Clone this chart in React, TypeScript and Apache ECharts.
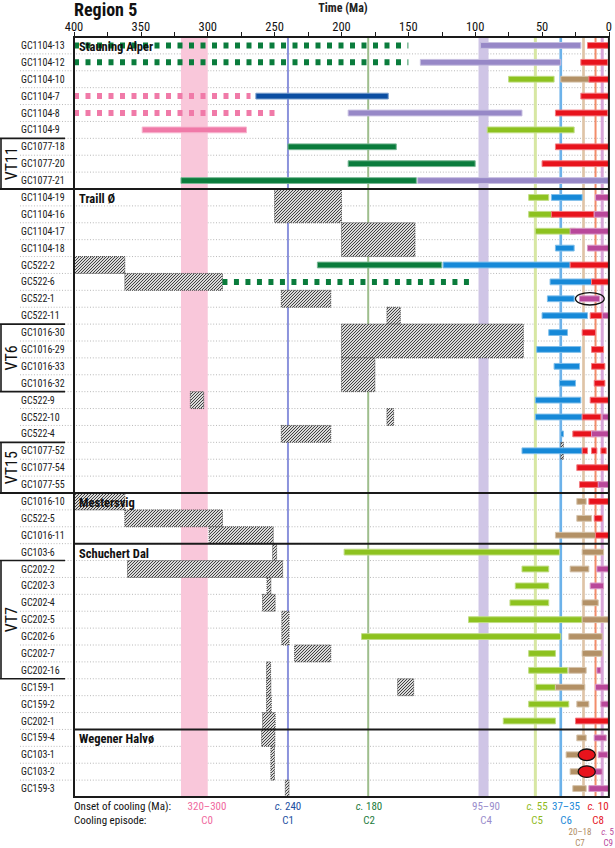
import React, { useEffect, useRef } from 'react';
import * as echarts from 'echarts';

const FONT = "'Liberation Sans Narrow', 'Roboto Condensed', Roboto, sans-serif";

// ---------- data ----------
const samples = [
  'GC1104-13', 'GC1104-12', 'GC1104-10', 'GC1104-7', 'GC1104-8', 'GC1104-9', 'GC1077-18', 'GC1077-20', 'GC1077-21',
  'GC1104-19', 'GC1104-16', 'GC1104-17', 'GC1104-18', 'GC522-2', 'GC522-6', 'GC522-1', 'GC522-11', 'GC1016-30',
  'GC1016-29', 'GC1016-33', 'GC1016-32', 'GC522-9', 'GC522-10', 'GC522-4', 'GC1077-52', 'GC1077-54', 'GC1077-55',
  'GC1016-10', 'GC522-5', 'GC1016-11',
  'GC103-6', 'GC202-2', 'GC202-3', 'GC202-4', 'GC202-5', 'GC202-6', 'GC202-7', 'GC202-16', 'GC159-1', 'GC159-2', 'GC202-1',
  'GC159-4', 'GC103-1', 'GC103-2', 'GC159-3',
];

const groupNames = ['Stauning Alper', 'Traill Ø', 'Mestersvig', 'Schuchert Dal', 'Wegener Halvø'];
const groupFirstRow = [0, 9, 27, 30, 41];

const vtNames = ['VT11', 'VT6', 'VT15', 'VT7'];
const vtFirstRow = [6, 17, 24, 31];
const vtLastRow = [8, 20, 26, 37];

const episodes = ['C0', 'C1', 'C2', 'C4', 'C5', 'C6', 'C7', 'C8', 'C9'];
const onsetText = ['320–300', 'c. 240', 'c. 180', '95–90', 'c. 55', '37–35', '20–18', 'c. 10', 'c. 5'];
const onsetFrom = [320, 240, 180, 97.5, 55, 37, 20, 10, 5];
const onsetTo = [300, 240, 180, 90, 55, 35, 18, 10, 5];

// bars: [row, from (Ma), to (Ma)]
const c0Bars = [[5, 349, 271]];
const c1Bars = [[3, 264, 165]];
const c2Bars = [[6, 240, 159], [7, 195, 100], [8, 320, 144], [13, 218, 125]];
const c4Bars = [[0, 96, 21], [1, 141, 36], [4, 195, 65], [8, 143, 0]];
const c5Bars = [
  [2, 75, 41], [5, 91, 26], [9, 60, 45], [10, 60, 41], [11, 55, 25],
  [30, 198, 37], [31, 65, 45], [32, 70, 45], [33, 74, 45], [34, 105, 20], [35, 185, 36], [36, 60, 40],
  [37, 60, 31], [38, 55, 40], [39, 60, 30], [40, 79, 40],
];
const c6Bars = [
  [9, 43, 20], [12, 40, 26], [13, 124, 29], [14, 44, 10], [15, 46, 26], [16, 50, 16], [17, 45, 31],
  [18, 54, 21], [19, 41, 22], [20, 37, 25], [21, 55, 21], [22, 55, 20], [23, 36, 34], [24, 65, 20],
];
const c7Bars = [
  [2, 36, 11], [27, 24, 17], [28, 24, 13], [29, 40, 10], [30, 20, 4], [31, 29, 15], [33, 20, 8], [34, 20, 0],
  [35, 30, 5], [36, 20, 5], [37, 30, 17], [38, 40, 18], [39, 24, 15], [41, 24, 17], [42, 32, 19], [43, 29, 19], [44, 27, 17],
];
const c8Bars = [
  [0, 16, 0], [1, 21, 1], [2, 15, 0], [3, 21, 0], [4, 40, 1], [6, 40, 0], [7, 50, 0], [10, 43, 11], [13, 29, 0],
  [14, 13, 0], [16, 14, 5], [17, 20, 10], [18, 13, 4], [19, 13, 3], [20, 11, 3], [21, 14, 0], [22, 20, 6], [23, 27, 11],
  [24, 20, 16], [24, 13, 9], [24, 6, 2], [25, 24, 0], [26, 22, 4], [27, 15, 0], [28, 11, 5], [29, 10, 0], [40, 25, 0],
  [42, 22, 11], [43, 22, 11],
];
const c9Bars = [
  [9, 10, 0], [10, 11, 0], [11, 29, 0], [12, 16, 0], [15, 22, 7], [16, 5, 0], [22, 5, 0], [23, 13, 0], [26, 8, 0],
  [31, 9, 0], [32, 14, 4], [37, 9, 6], [38, 10, 0], [39, 6, 0], [41, 11, 2], [42, 8, 1], [43, 11, 5], [44, 15, 0],
];
// dashed (poorly constrained) bars: [row, from, to]
const c0Dashed = [[3, 400, 268], [4, 400, 250]];
const c2Dashed = [[0, 400, 150], [1, 400, 150], [14, 289, 102]];

// hatched boxes: [firstRow, lastRow, from, to]
const boxes = [
  [9, 10, 250, 200], [11, 12, 200, 145], [13, 13, 400, 362], [14, 14, 362, 289], [15, 15, 245, 208],
  [16, 16, 166, 156], [17, 18, 200, 64], [19, 20, 200, 175], [21, 21, 313, 303], [22, 22, 166, 161],
  [23, 23, 245, 208], [24, 24, 36, 34], [27, 27, 400, 362], [28, 28, 362, 289], [29, 29, 299, 251],
  [30, 30, 251.5, 248.5], [31, 31, 360, 244], [32, 32, 255.7, 252.8], [33, 33, 259, 249.6], [34, 35, 244.6, 239.2],
  [36, 36, 235, 208], [37, 37, 256, 253], [38, 38, 256, 252.8], [39, 39, 256, 252.5], [40, 40, 259, 249.6],
  [41, 41, 259.7, 249.8], [42, 43, 252.8, 250.1], [44, 44, 242, 239.2], [38, 38, 158, 146],
];

// circled results: [row, from, to, filled episode index or -1]
const circled = [[15, 25, 3.5, -1], [42, 23, 10.2, 7], [43, 23, 10.2, 7]];

// ---------- styles ----------
const barColor = ['#f07aa8', '#0b4ea2', '#0a7c3c', '#9788c7', '#8dc21f', '#1689d8', '#b39166', '#e8131c', '#b9489a'];
const bandColor = ['#f9c7da', '#8b93dc', '#9ebe8d', '#cfc5e6', '#d7e7a3', '#6cb2ea', '#dfc4a7', '#f38d6b', '#d9a6d9'];
const bandLineWidth = [0, 2, 2, 0, 3, 3, 3, 2, 3];
const textColor = ['#f0699e', '#1d4f9f', '#1b7a3b', '#9a8dcc', '#8fba1d', '#1c89d8', '#b08c63', '#e5141e', '#b8479a'];

function mix(hex: string, t: number) {
  const n = parseInt(hex.slice(1), 16);
  const r = (n >> 16) & 255, g = (n >> 8) & 255, b = n & 255;
  const m = (c: number) => Math.round(c + (255 - c) * t);
  return `rgb(${m(r)},${m(g)},${m(b)})`;
}

const hatchSvg =
  "<svg xmlns='http://www.w3.org/2000/svg' width='3' height='3'>" +
  "<path d='M0,3 L3,0 M-1,1 L1,-1 M2,4 L4,2' stroke='#3a3a3a' stroke-width='0.95'/></svg>";
const hatchPattern: any = {
  image: 'data:image/svg+xml;charset=utf-8,' + encodeURIComponent(hatchSvg),
  repeat: 'repeat',
  imageWidth: 3,
  imageHeight: 3,
};

const BAR_H = 5.8;

function barSeries(data: number[][], ep: number) {
  return {
    type: 'custom',
    name: episodes[ep],
    data,
    z: 5,
    encode: { x: [1, 2], y: 0 },
    renderItem: (params: any, api: any) => {
      const row = api.value(0);
      const p1 = api.coord([api.value(1), row]);
      const p2 = api.coord([api.value(2), row]);
      return {
        type: 'rect',
        shape: { x: Math.min(p1[0], p2[0]), y: p1[1] - BAR_H / 2, width: Math.abs(p2[0] - p1[0]), height: BAR_H },
        style: { fill: barColor[ep], stroke: mix(barColor[ep], 0.45), lineWidth: 1 },
      };
    },
  };
}

function dashedSeries(data: number[][], ep: number) {
  return {
    type: 'custom',
    name: episodes[ep] + ' (dashed)',
    data,
    z: 4,
    encode: { x: [1, 2], y: 0 },
    renderItem: (params: any, api: any) => {
      const row = api.value(0);
      const p1 = api.coord([api.value(1), row]);
      const p2 = api.coord([api.value(2), row]);
      return {
        type: 'line',
        shape: { x1: p1[0], y1: p1[1], x2: p2[0], y2: p2[1] },
        style: { stroke: barColor[ep], lineWidth: 6, lineDash: [5, 6.5], lineCap: 'butt' },
      };
    },
  };
}

function buildOption() {
  const series: any[] = [];

  // dotted row lines (extend into label column)
  series.push({
    type: 'custom',
    name: 'rows',
    data: samples.slice(0, -1).map((_, i) => [i]),
    encode: { y: 0 },
    z: 1,
    clip: false,
    silent: true,
    renderItem: (params: any, api: any) => {
      const cs = params.coordSys;
      const y = api.coord([0, api.value(0)])[1] + api.size([0, 1])[1] / 2;
      return {
        type: 'line',
        shape: { x1: 20, y1: y, x2: cs.x + cs.width, y2: y },
        style: { stroke: '#b8b8b8', lineWidth: 1, lineDash: [1, 1.8] },
      };
    },
  });

  // onset bands / lines
  series.push({
    type: 'custom',
    name: 'onsets',
    data: onsetFrom.map((f, i) => [f, onsetTo[i], i]),
    encode: { x: [0, 1] },
    z: 2,
    silent: true,
    renderItem: (params: any, api: any) => {
      const cs = params.coordSys;
      const ep = api.value(2);
      const a = api.coord([api.value(0), 0])[0];
      const b = api.coord([api.value(1), 0])[0];
      if (Math.abs(b - a) < 0.5) {
        return {
          type: 'line',
          shape: { x1: a, y1: cs.y, x2: a, y2: cs.y + cs.height },
          style: { stroke: bandColor[ep], lineWidth: bandLineWidth[ep] },
        };
      }
      return {
        type: 'rect',
        shape: { x: Math.min(a, b), y: cs.y, width: Math.abs(b - a), height: cs.height },
        style: { fill: bandColor[ep] },
      };
    },
  });

  // hatched boxes
  series.push({
    type: 'custom',
    name: 'boxes',
    data: boxes,
    encode: { x: [2, 3], y: [0, 1] },
    z: 3,
    renderItem: (params: any, api: any) => {
      const bw = api.size([0, 1])[1];
      const p1 = api.coord([api.value(2), api.value(0)]);
      const p2 = api.coord([api.value(3), api.value(1)]);
      const shape = {
        x: Math.min(p1[0], p2[0]),
        y: p1[1] - bw / 2,
        width: Math.abs(p2[0] - p1[0]),
        height: p2[1] - p1[1] + bw,
      };
      return {
        type: 'group',
        children: [
          { type: 'rect', shape, style: { fill: '#dadada' } },
          { type: 'rect', shape, style: { fill: hatchPattern, stroke: '#444', lineWidth: 0.9, lineDash: [1, 1] } },
        ],
      };
    },
  });

  series.push(dashedSeries(c0Dashed, 0));
  series.push(dashedSeries(c2Dashed, 2));
  [c0Bars, c1Bars, c2Bars, c4Bars, c5Bars, c6Bars, c7Bars, c8Bars, c9Bars].forEach((d, i) => series.push(barSeries(d, i)));

  // circled results
  series.push({
    type: 'custom',
    name: 'circled',
    data: circled,
    encode: { x: [1, 2], y: 0 },
    z: 6,
    renderItem: (params: any, api: any) => {
      const row = api.value(0);
      const p1 = api.coord([api.value(1), row]);
      const p2 = api.coord([api.value(2), row]);
      const fe = api.value(3);
      return {
        type: 'ellipse',
        shape: { cx: (p1[0] + p2[0]) / 2, cy: p1[1], rx: Math.abs(p2[0] - p1[0]) / 2, ry: fe >= 0 ? 5.8 : 6.2 },
        style: { fill: fe >= 0 ? barColor[fe] : 'none', stroke: '#111', lineWidth: 1.3 },
      };
    },
  });

  // group separators
  series.push({
    type: 'custom',
    name: 'separators',
    data: groupFirstRow.slice(1).map((r) => [r]),
    encode: { y: 0 },
    z: 7,
    clip: false,
    silent: true,
    renderItem: (params: any, api: any) => {
      const cs = params.coordSys;
      const r = api.value(0);
      const y = api.coord([0, r])[1] - api.size([0, 1])[1] / 2;
      const startsAtEdge = vtLastRow.indexOf(r - 1) >= 0;
      return {
        type: 'line',
        shape: { x1: startsAtEdge ? 0 : cs.x, y1: y, x2: cs.x + cs.width, y2: y },
        style: { stroke: '#1a1a1a', lineWidth: 2 },
      };
    },
  });

  // frame
  series.push({
    type: 'custom',
    name: 'frame',
    data: [[0]],
    encode: { y: 0 },
    z: 8,
    clip: false,
    silent: true,
    renderItem: (params: any) => {
      const cs = params.coordSys;
      return {
        type: 'rect',
        shape: { x: cs.x, y: cs.y, width: cs.width, height: cs.height },
        style: { fill: 'none', stroke: '#1a1a1a', lineWidth: 2 },
      };
    },
  });

  // VT brackets
  series.push({
    type: 'custom',
    name: 'vt',
    data: vtNames.map((_, i) => [vtFirstRow[i], vtLastRow[i], i]),
    encode: { y: [0, 1] },
    z: 8,
    clip: false,
    silent: true,
    renderItem: (params: any, api: any) => {
      const bw = api.size([0, 1])[1];
      const top = api.coord([0, api.value(0)])[1] - bw / 2;
      const bottom = api.coord([0, api.value(1)])[1] + bw / 2;
      const i = api.value(2);
      const st = { stroke: '#1a1a1a', lineWidth: 1.6 };
      return {
        type: 'group',
        children: [
          { type: 'line', shape: { x1: 0, y1: top, x2: 65, y2: top }, style: st },
          { type: 'line', shape: { x1: 0, y1: bottom, x2: 65, y2: bottom }, style: st },
          { type: 'line', shape: { x1: 1, y1: top, x2: 1, y2: bottom }, style: st },
          {
            type: 'text',
            x: 11,
            y: (top + bottom) / 2,
            rotation: Math.PI / 2,
            style: {
              text: vtNames[i], x: 0, y: 0, align: 'center', verticalAlign: 'middle',
              fontSize: 16, fontFamily: FONT, fill: '#111',
            },
          },
        ],
      };
    },
  });

  // group labels
  series.push({
    type: 'custom',
    name: 'groups',
    data: groupFirstRow.map((r, i) => [r, i]),
    encode: { y: 0 },
    z: 9,
    clip: false,
    silent: true,
    renderItem: (params: any, api: any) => {
      const cs = params.coordSys;
      const y = api.coord([0, api.value(0)])[1];
      return {
        type: 'text',
        style: {
          text: groupNames[api.value(1)], x: cs.x + 5, y: y + 1, align: 'left', verticalAlign: 'middle',
          fontSize: 12.5, fontWeight: 'bold', fontFamily: FONT, fill: '#111',
        },
      };
    },
  });

  // bottom legend texts
  const legendX = [207, 288, 369, 486, 537, 566, 580, 598, 614];
  const legendLine = [0, 0, 0, 0, 0, 0, 1, 0, 1];
  const legendAlign = ['center', 'center', 'center', 'center', 'center', 'center', 'center', 'center', 'right'];
  const FS = 11;
  const FS_LOW = 9;
  const graphic: any[] = [
    { type: 'text', x: 74, y: 9, style: { text: 'Region 5', fontSize: 18, fontWeight: 'bold', fontFamily: FONT, fill: '#111', align: 'left', verticalAlign: 'middle' } },
    { type: 'text', x: 343, y: 8, style: { text: 'Time (Ma)', fontSize: 12, fontWeight: 'bold', fontFamily: FONT, fill: '#222', align: 'center', verticalAlign: 'middle' } },
    { type: 'text', x: 74, y: 806.8, style: { text: 'Onset of cooling (Ma):', fontSize: FS, lineHeight: FS, fontFamily: FONT, fill: '#111', align: 'left', verticalAlign: 'middle' } },
    { type: 'text', x: 74, y: 820, style: { text: 'Cooling episode:', fontSize: FS, lineHeight: FS, fontFamily: FONT, fill: '#111', align: 'left', verticalAlign: 'middle' } },
  ];
  episodes.forEach((ep, i) => {
    const low = legendLine[i] === 1;
    const fs = low ? FS_LOW : FS;
    const y0 = low ? 831.8 : 806.8;
    const y1 = low ? 842.5 : 820;
    const t = onsetText[i];
    const isC = t.startsWith('c. ');
    graphic.push({
      type: 'text',
      x: legendX[i],
      y: y0,
      style: {
        text: isC ? `{i|c.}${t.slice(2)}` : t,
        rich: { i: { fontStyle: 'italic', fontSize: fs, lineHeight: fs, fontFamily: FONT, fill: textColor[i] } },
        fontSize: fs, lineHeight: fs, fontFamily: FONT, fill: textColor[i], align: legendAlign[i], verticalAlign: 'middle',
      },
    });
    graphic.push({
      type: 'text',
      x: legendAlign[i] === 'right' ? legendX[i] - 1 : legendX[i],
      y: y1,
      style: { text: ep, fontSize: fs, lineHeight: fs, fontFamily: FONT, fill: textColor[i], align: legendAlign[i], verticalAlign: 'middle' },
    });
  });

  return {
    animation: false,
    textStyle: { fontFamily: FONT },
    grid: { left: 74, right: 3, top: 37, bottom: 51, show: false },
    xAxis: {
      type: 'value',
      position: 'top',
      inverse: true,
      min: 0,
      max: 400,
      interval: 25,
      axisLine: { show: false },
      axisTick: { show: true, length: 5, lineStyle: { color: '#1a1a1a', width: 1 } },
      axisLabel: {
        margin: 4,
        fontSize: 12.5,
        color: '#111',
        fontFamily: FONT,
        formatter: (v: number) => (v % 50 === 0 ? String(v) : ''),
      },
      splitLine: { show: false },
    },
    yAxis: {
      type: 'category',
      data: samples,
      inverse: true,
      axisLine: { show: false },
      axisTick: { show: false },
      splitLine: { show: false },
      axisLabel: { align: 'left', margin: 53, fontSize: 10, color: '#1a1a1a', fontFamily: FONT, interval: 0 },
    },
    graphic,
    series,
  };
}

export default function App() {
  const ref = useRef<HTMLDivElement>(null);
  useEffect(() => {
    document.body.style.margin = '0';
    const chart = echarts.init(ref.current!, null, { renderer: 'svg' });
    chart.setOption(buildOption() as any);
    return () => chart.dispose();
  }, []);
  return <div ref={ref} style={{ width: 615, height: 848 }} />;
}
